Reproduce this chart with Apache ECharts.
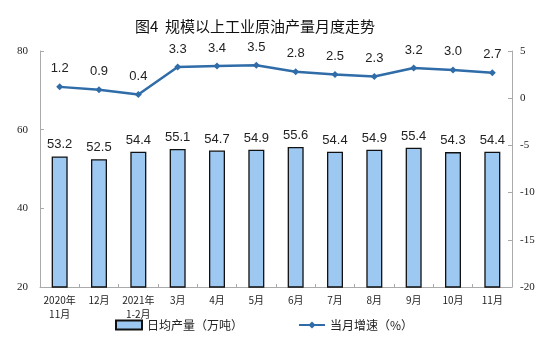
<!DOCTYPE html>
<html><head><meta charset="utf-8">
<script src="https://cdn.jsdelivr.net/npm/echarts@6/dist/echarts.min.js"></script>
<style>html,body{margin:0;padding:0;background:#fff}#c{width:556px;height:362px}</style>
</head><body><div id="c"></div>
<script>
var categories = ['2020年\n11月','12月','2021年\n1-2月','3月','4月','5月','6月','7月','8月','9月','10月','11月'];
var output = [53.2,52.5,54.4,55.1,54.7,54.9,55.6,54.4,54.9,55.4,54.3,54.4];
var growth = [1.2,0.9,0.4,3.3,3.4,3.5,2.8,2.5,2.3,3.2,3.0,2.7];
var chart = echarts.init(document.getElementById('c'));
chart.setOption({
  animation:false,
  title:{text:'图4  规模以上工业原油产量月度走势',left:130,top:14,textStyle:{fontFamily:'Noto Sans CJK SC',fontSize:15,fontWeight:'normal',color:'#111'}},
  grid:{left:40,right:44,top:51,bottom:75},
  legend:{bottom:26,left:110,itemGap:55,itemWidth:26,itemHeight:9,textStyle:{fontFamily:'Noto Sans CJK SC',fontSize:12,color:'#222'},
    data:[{name:'日均产量（万吨）',icon:'rect'},{name:'当月增速（%）'}]},
  xAxis:{type:'category',data:categories,
    axisLine:{onZero:false,lineStyle:{color:'#aaa'}},axisTick:{show:true,inside:true,length:3,lineStyle:{color:'#aaa'}},
    axisLabel:{fontFamily:'Noto Sans CJK SC',fontSize:10,color:'#222',lineHeight:14,margin:6,interval:0}},
  yAxis:[
    {type:'value',min:20,max:80,interval:20,splitLine:{show:false},
     axisLine:{show:true,lineStyle:{color:'#aaa'}},axisTick:{show:true,inside:true,length:4,lineStyle:{color:'#aaa'}},
     axisLabel:{fontFamily:'Liberation Serif',fontSize:11,color:'#222',margin:12}},
    {type:'value',min:-20,max:5,interval:5,splitLine:{show:false},
     axisLine:{show:true,lineStyle:{color:'#aaa'}},axisTick:{show:true,inside:true,length:4,lineStyle:{color:'#aaa'}},
     axisLabel:{fontFamily:'Liberation Serif',fontSize:11,color:'#222',margin:8}}
  ],
  series:[
    {name:'日均产量（万吨）',type:'bar',data:output,barWidth:16,
     itemStyle:{color:'#9DC8F2',borderColor:'#111',borderWidth:1.3},
     label:{show:true,position:'top',distance:5,formatter:function(p){return p.value.toFixed(1);},fontFamily:'Liberation Sans',fontSize:13,color:'#222'}},
    {name:'当月增速（%）',type:'line',yAxisIndex:1,data:growth,symbol:'diamond',symbolSize:7,
     lineStyle:{color:'#2F6CA8',width:2.5},itemStyle:{color:'#2F6CA8'},
     label:{show:true,position:'top',distance:8,formatter:function(p){return p.value.toFixed(1);},fontFamily:'Liberation Sans',fontSize:13,color:'#222'}}
  ]
});
</script></body></html>
